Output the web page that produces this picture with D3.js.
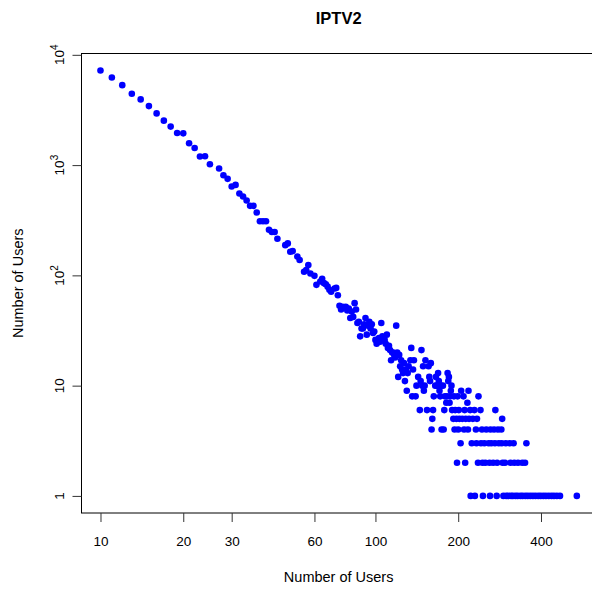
<!DOCTYPE html>
<html>
<head>
<meta charset="utf-8">
<script src="https://cdn.jsdelivr.net/npm/d3@7"></script>
<style>
  body { margin: 0; background: #fff; }
  svg { display: block; font-family: "Liberation Sans", Arial, Helvetica, sans-serif; }
</style>
</head>
<body>
<svg id="chart" width="592" height="592"></svg>
<script>
// Group sizes (number of users) and how many groups have that size, upper part of the distribution
const headUsers = [
  10, 11, 12, 13, 14, 15, 16, 17, 18, 19, 20, 21, 22, 23, 24, 25, 27, 28, 29, 30,
  31, 32, 33, 34, 35, 36, 37, 38, 39, 40, 41, 42, 43, 44, 47, 48, 49, 50, 52, 53,
  55, 56, 57, 58, 60, 61, 63, 64, 65, 66, 67, 68, 69, 71, 72, 73, 74, 75, 76, 78,
  79, 80, 81, 82, 83, 84, 85, 86, 87, 88, 89, 90, 91, 92, 93, 94, 95, 96, 97, 98,
  99, 100, 101, 102, 103, 104, 105, 106, 107, 108, 109, 110, 111, 112, 113, 114, 115, 116, 117, 118,
  119, 120, 121, 122, 123, 124, 125, 126, 127
];
const headCounts = [
  7210, 6235, 5310, 4437, 3943, 3428, 2944, 2530, 2233, 1954, 1941, 1577, 1429, 1195, 1203, 1018, 931, 809, 750, 640,
  661, 553, 519, 478, 427, 427, 372, 310, 310, 310, 259, 247, 247, 215, 188, 195, 164, 166, 148, 138,
  108, 112, 124, 104, 99, 82, 88, 93, 85, 83, 79, 74, 71, 76, 77, 66, 53, 49, 52, 52,
  48, 50, 41, 47, 42, 56, 49, 37, 38, 28, 33, 33, 36, 41, 29, 35, 38, 33, 36, 30,
  31, 26, 24, 25, 27, 25, 37, 28, 26, 26, 24, 29, 22, 23, 21, 17, 20, 20, 19, 18,
  35, 20, 12, 19, 15, 17, 14, 13, 16
];

// Larger group sizes, listed by the (small) number of groups observed at each size
const usersSeen22 = [135];
const usersSeen21 = [147];
const usersSeen17 = [134, 138, 152];
const usersSeen16 = [159];
const usersSeen15 = [132, 149, 156];
const usersSeen14 = [129, 137];
const usersSeen13 = [131, 169, 183];
const usersSeen12 = [143, 157, 166, 185];
const usersSeen11 = [128, 146, 158, 170, 184];
const usersSeen10 = [141, 148, 151, 165, 167, 173, 176, 189];
const usersSeen9  = [130, 150, 171, 188, 205, 218];
const usersSeen8  = [136, 140, 163, 172, 179, 182, 187, 193, 199, 209, 237];
const usersSeen7  = [181, 186, 216];
const usersSeen6  = [145, 154, 162, 178, 190, 195, 201, 211, 221, 229, 241, 273];
const usersSeen5  = [161, 192, 197, 202, 207, 213, 219, 226, 234, 289];
const usersSeen4  = [160, 174, 177, 194, 200, 210, 217, 232, 244, 253, 262, 270, 279, 287];
const usersSeen3  = [204, 224, 233, 242, 249, 258, 264, 272, 281, 288, 298, 308, 318, 354];
const usersSeen2  = [198, 212, 236, 245, 251, 260, 268, 277, 290, 296, 310, 320, 330, 342, 350];
const usersSeen1  = [222, 230, 246, 261, 276, 292, 299, 304, 311, 316, 323, 329, 337, 343, 351, 358,
                     366, 374, 382, 391, 399, 408, 417, 427, 437, 446, 457, 469, 540];

const xTickValues = [10, 20, 30, 60, 100, 200, 400];
const yTickValues = [1, 10, 100, 1000, 10000];
const yTickBase = ["1", "10", "10", "10", "10"];
const yTickExp = ["", "", "2", "3", "4"];

// Assemble the point list
const points = headUsers.map((u, i) => ({ users: u, count: headCounts[i] }));
const tailGroups = [
  [22, usersSeen22], [21, usersSeen21], [17, usersSeen17], [16, usersSeen16], [15, usersSeen15],
  [14, usersSeen14], [13, usersSeen13], [12, usersSeen12], [11, usersSeen11], [10, usersSeen10],
  [9, usersSeen9], [8, usersSeen8], [7, usersSeen7], [6, usersSeen6], [5, usersSeen5],
  [4, usersSeen4], [3, usersSeen3], [2, usersSeen2], [1, usersSeen1]
];
tailGroups.forEach(([c, list]) => list.forEach(u => points.push({ users: u, count: c })));

const svg = d3.select("#chart");
const plot = { left: 81.5, right: 595.8, top: 53.5, bottom: 513 };

const x = d3.scaleLog().domain([8.53, 633]).range([plot.left, plot.right]);
const y = d3.scaleLog().domain([0.70, 10280]).range([plot.bottom, plot.top]);

// Points
svg.append("g")
  .selectAll("circle")
  .data(points)
  .join("circle")
  .attr("cx", d => x(d.users))
  .attr("cy", d => y(d.count))
  .attr("r", 3.3)
  .attr("fill", "#0000ff");

// Plot frame
svg.append("rect")
  .attr("x", plot.left)
  .attr("y", plot.top)
  .attr("width", plot.right - plot.left)
  .attr("height", plot.bottom - plot.top)
  .attr("fill", "none")
  .attr("stroke", "#000")
  .attr("stroke-width", 1);

// X axis
const gx = svg.append("g")
  .attr("transform", `translate(0,${plot.bottom})`)
  .call(d3.axisBottom(x).tickValues(xTickValues).tickFormat(d3.format("d")).tickSize(9));
gx.select(".domain").remove();
gx.selectAll(".tick line").attr("stroke", "#333");
gx.selectAll(".tick text")
  .attr("y", 33)
  .attr("dy", null)
  .attr("font-size", 13.5)
  .attr("font-family", "Liberation Sans, Arial, sans-serif")
  .attr("fill", "#000");

// Y axis
const gy = svg.append("g")
  .attr("transform", `translate(${plot.left},0)`)
  .call(d3.axisLeft(y).tickValues(yTickValues).tickFormat("").tickSize(9));
gy.select(".domain").remove();
gy.selectAll(".tick line").attr("stroke", "#333");

const yLabels = svg.append("g")
  .attr("font-size", 13.5)
  .attr("fill", "#000");
yTickValues.forEach((v, i) => {
  const t = yLabels.append("text")
    .attr("transform", `translate(63.5,${y(v)}) rotate(-90)`)
    .attr("text-anchor", "middle")
    .text(yTickBase[i]);
  if (yTickExp[i]) {
    t.append("tspan")
      .attr("dy", -6)
      .attr("font-size", 10)
      .text(yTickExp[i]);
  }
});

// Titles
svg.append("text")
  .attr("x", (plot.left + plot.right) / 2)
  .attr("y", 24)
  .attr("text-anchor", "middle")
  .attr("font-size", 16.5)
  .attr("font-weight", "bold")
  .text("IPTV2");

svg.append("text")
  .attr("x", (plot.left + plot.right) / 2)
  .attr("y", 581.5)
  .attr("text-anchor", "middle")
  .attr("font-size", 14.5)
  .text("Number of Users");

svg.append("text")
  .attr("transform", `translate(23,${(plot.top + plot.bottom) / 2}) rotate(-90)`)
  .attr("text-anchor", "middle")
  .attr("font-size", 14.5)
  .text("Number of Users");
</script>
</body>
</html>
